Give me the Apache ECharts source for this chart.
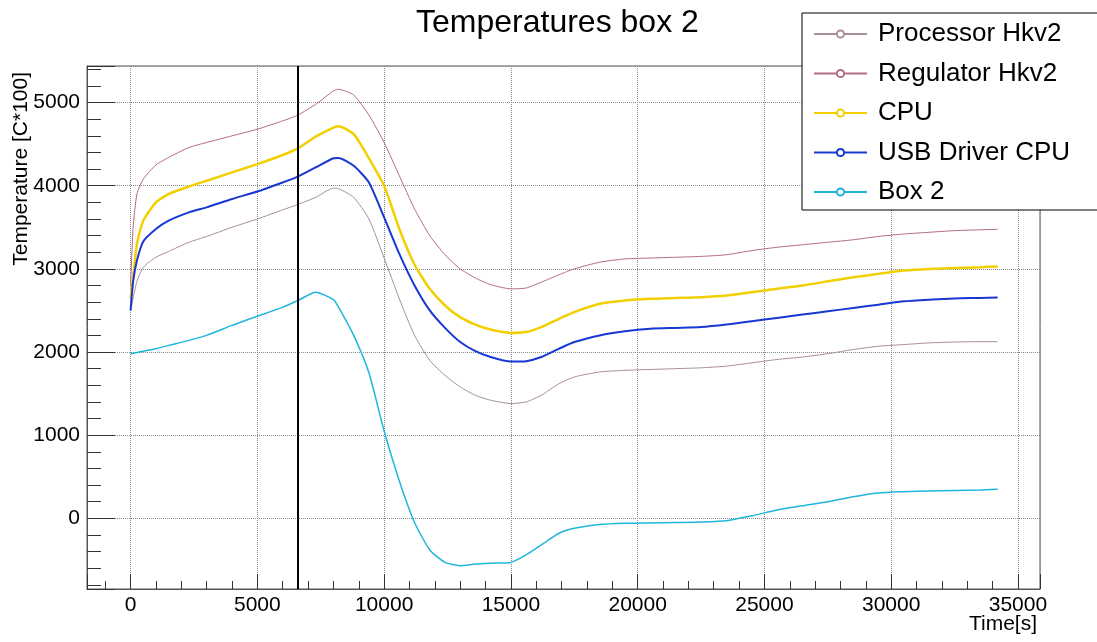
<!DOCTYPE html>
<html>
<head>
<meta charset="utf-8">
<title>Temperatures box 2</title>
<script src="https://cdn.jsdelivr.net/npm/echarts@6/dist/echarts.min.js"></script>
<style>
  html, body { margin: 0; padding: 0; background: #fff; }
  #chart-container { width: 1097px; height: 642px; }
</style>
</head>
<body>
<div id="chart-container"></div>
<script>
// Tiempos de muestreo (s)
var tiempos = [0, 100, 250, 500, 1000, 1500, 2300, 3000, 4000, 5000, 6000, 6600, 7300, 8000, 8200, 8800,
  9400, 10000, 10600, 11200, 11800, 12400, 13000, 13600, 14200, 15000, 15600, 16200, 16900, 17500,
  18500, 19500, 20500, 21500, 22500, 23500, 24500, 25500, 26500, 27500, 28500, 29500, 30500, 31500,
  32500, 33500, 34200];

// Temperaturas [C*100]
var processorHkv2 = [2500, 2650, 2850, 3020, 3140, 3210, 3320, 3390, 3500, 3600, 3710, 3775, 3860, 3970, 3965, 3860,
  3600, 3130, 2640, 2200, 1900, 1720, 1580, 1480, 1420, 1380, 1400, 1480, 1620, 1700,
  1760, 1780, 1790, 1800, 1810, 1830, 1870, 1910, 1940, 1980, 2030, 2070, 2090, 2110,
  2120, 2125, 2125];
var regulatorHkv2 = [2800, 3500, 3900, 4080, 4250, 4340, 4460, 4520, 4600, 4680, 4780, 4850, 4980, 5140, 5160, 5090,
  4850, 4520, 4120, 3720, 3400, 3170, 3000, 2890, 2810, 2760, 2770, 2840, 2930, 3000,
  3080, 3120, 3130, 3140, 3150, 3170, 3220, 3260, 3290, 3320, 3350, 3390, 3420, 3440,
  3460, 3470, 3475];
var cpu = [2650, 2900, 3300, 3580, 3800, 3900, 3990, 4060, 4160, 4260, 4370, 4450, 4590, 4700, 4715, 4620,
  4330, 4000, 3480, 3050, 2760, 2560, 2420, 2330, 2270, 2230, 2240, 2300, 2400, 2480,
  2580, 2620, 2640, 2650, 2660, 2680, 2720, 2760, 2800, 2850, 2900, 2940, 2980, 3000,
  3010, 3020, 3030];
var usbDriverCpu = [2500, 2850, 3100, 3330, 3480, 3580, 3680, 3740, 3840, 3930, 4040, 4110, 4220, 4330, 4335, 4240,
  4040, 3620, 3180, 2800, 2500, 2290, 2120, 2010, 1940, 1885, 1890, 1940, 2040, 2120,
  2200, 2250, 2280, 2290, 2300, 2330, 2370, 2410, 2450, 2490, 2530, 2570, 2610, 2630,
  2645, 2650, 2655];
var box2 = [1980, 1985, 1995, 2010, 2040, 2080, 2140, 2200, 2320, 2430, 2540, 2620, 2720, 2630, 2540, 2200,
  1750, 1050, 450, -50, -380, -530, -570, -550, -540, -530, -440, -320, -180, -120,
  -75, -60, -55, -50, -45, -30, 30, 100, 150, 200, 260, 305, 320, 330,
  335, 340, 350];

// Marca vertical (s)
var marcaTiempo = 6600;

var nombres = ['Processor Hkv2', 'Regulator Hkv2', 'CPU', 'USB Driver CPU', 'Box 2'];
var valores = [processorHkv2, regulatorHkv2, cpu, usbDriverCpu, box2];
var colores = ['#a98e9a', '#b56c7e', '#f2d000', '#1838d4', '#1fb6dc'];
var anchos = [1, 1, 2.5, 2, 1.5];

var fuente = 'Liberation Sans, Arial, Helvetica, sans-serif';

var myChart = echarts.init(document.getElementById('chart-container'));

// Etiquetas sin separador de miles
var sinComas = function (value) { return String(value); };

var option = {
  animation: false,
  backgroundColor: '#fff',
  title: {
    text: 'Temperatures box 2',
    left: 416,
    top: 7,
    padding: 0,
    textStyle: { fontFamily: fuente, fontSize: 32, fontWeight: 'normal', color: '#000' }
  },
  legend: {
    orient: 'vertical',
    left: 802,
    top: 13,
    padding: [6, 60, 3, 11],
    itemWidth: 53,
    itemHeight: 9,
    itemGap: 9.5,
    backgroundColor: '#fff',
    borderColor: '#000',
    borderWidth: 1,
    borderRadius: 0,
    data: nombres,
    textStyle: { fontFamily: fuente, fontSize: 26, color: '#000', lineHeight: 30, padding: [0, 0, 0, 6] }
  },
  grid: {
    left: 87,
    right: 57,
    top: 66,
    bottom: 53,
    outerBoundsMode: 'none',
    containLabel: false,
    show: true,
    borderColor: '#555',
    borderWidth: 1
  },
  // Titulos de los ejes
  graphic: [{
    type: 'text',
    x: 21,
    y: 72,
    rotation: Math.PI / 2,
    style: {
      text: 'Temperature [C*100]',
      fontFamily: fuente,
      fontSize: 21,
      fill: '#000',
      textAlign: 'right',
      textVerticalAlign: 'middle'
    }
  }, {
    type: 'text',
    x: 1037,
    y: 624,
    style: {
      text: 'Time[s]',
      fontFamily: fuente,
      fontSize: 21,
      fill: '#000',
      textAlign: 'right',
      textVerticalAlign: 'middle'
    }
  }],
  xAxis: {
    type: 'value',
    min: -1720,
    max: 35870,
    splitNumber: 8,
    axisLine: { show: true, onZero: false, lineStyle: { color: '#555' } },
    axisTick: { show: true, inside: true, length: 15, lineStyle: { color: '#333' } },
    minorTick: { show: true, splitNumber: 5, length: 8, lineStyle: { color: '#333' } },
    axisLabel: { fontFamily: fuente, fontSize: 21, color: '#000', margin: 6, showMinLabel: false, showMaxLabel: false, formatter: sinComas },
    splitLine: { show: true, lineStyle: { color: '#888', type: 'dotted', width: 1 } }
  },
  yAxis: {
    type: 'value',
    min: -850,
    max: 5440,
    splitNumber: 6,
    axisLine: { show: true, onZero: false, lineStyle: { color: '#555' } },
    axisTick: { show: true, inside: true, length: 28, lineStyle: { color: '#333' } },
    minorTick: { show: true, splitNumber: 5, length: 14, lineStyle: { color: '#333' } },
    axisLabel: { fontFamily: fuente, fontSize: 21, color: '#000', margin: 7, showMinLabel: false, showMaxLabel: false, formatter: sinComas },
    splitLine: { show: true, lineStyle: { color: '#888', type: 'dotted', width: 1 } }
  },
  series: []
};

// Agregar series
for (var i = 0; i < nombres.length; i++) {
  var puntos = [];
  for (var j = 0; j < tiempos.length; j++) {
    puntos.push([tiempos[j], valores[i][j]]);
  }
  var serie = {
    name: nombres[i],
    type: 'line',
    symbol: 'emptyCircle',
    showSymbol: false,
    smooth: 0.2,
    color: colores[i],
    lineStyle: { color: colores[i], width: anchos[i] },
    data: puntos
  };
  option.series.push(serie);
}

// Linea vertical negra
option.series[0].markLine = {
  silent: true,
  symbol: 'none',
  label: { show: false },
  lineStyle: { color: '#000', width: 2, type: 'solid' },
  data: [{ xAxis: marcaTiempo }]
};

myChart.setOption(option);
</script>
</body>
</html>
